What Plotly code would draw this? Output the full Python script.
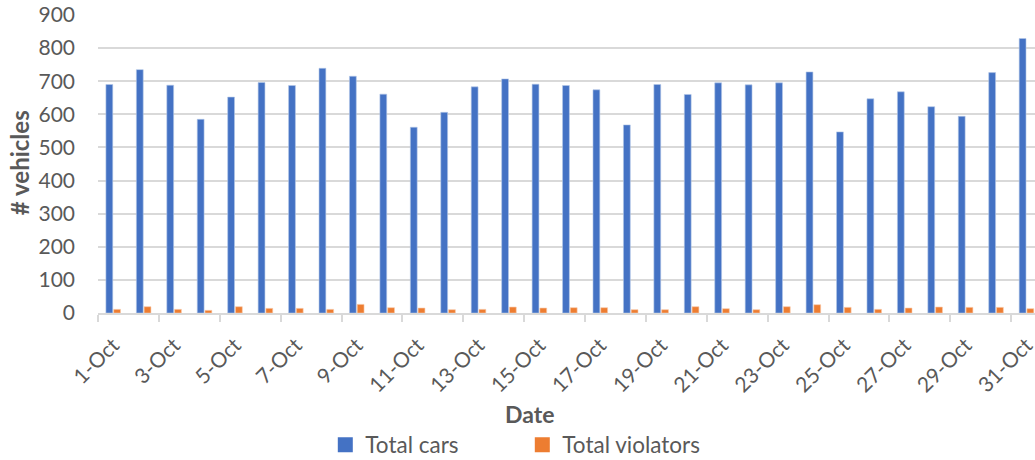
import plotly.graph_objects as go

dates = [f"{d}-Oct" for d in range(1, 32)]
total_cars = [690, 735, 688, 585, 652, 696, 687, 739, 715, 661, 561, 606, 683, 707, 691, 687,
              674, 568, 690, 660, 695, 689, 695, 728, 547, 647, 668, 623, 594, 726, 829]
total_violators = [11, 19, 11, 8, 19, 14, 14, 11, 26, 16, 15, 10, 11, 18, 15, 16,
                   16, 10, 10, 19, 13, 10, 19, 25, 17, 11, 15, 18, 17, 17, 13]
y_ticks = [0, 100, 200, 300, 400, 500, 600, 700, 800, 900]

FONT = "Lato, Roboto, sans-serif"
GRAY = "#595959"
BLUE = "#4472C4"
ORANGE = "#ED7D31"

fig = go.Figure()
fig.add_trace(go.Bar(x=dates, y=total_cars, name="Total cars", showlegend=False,
                     marker=dict(color=BLUE, line=dict(color="#B4C7E7", width=0.6))))
fig.add_trace(go.Bar(x=dates, y=total_violators, name="Total violators", showlegend=False,
                     marker=dict(color=ORANGE, line=dict(color="#F8CBAD", width=0.6))))
# legend entries
fig.add_trace(go.Scatter(x=[None], y=[None], mode="markers", name="Total cars",
                         marker=dict(symbol="square", size=15, color=BLUE)))
fig.add_trace(go.Scatter(x=[None], y=[None], mode="markers", name="Total violators",
                         marker=dict(symbol="square", size=15, color=ORANGE)))

fig.update_layout(
    width=1035, height=460,
    margin=dict(l=97.7, r=0, t=14, b=146.7),
    paper_bgcolor="white", plot_bgcolor="white",
    barmode="group", bargap=0.49, bargroupgap=0.12,
    font=dict(family=FONT, color=GRAY, size=18),
    showlegend=True,
    legend=dict(orientation="h", xref="container", yref="container",
                x=0.3143, y=0.0326, xanchor="left", yanchor="middle",
                font=dict(size=22.5, color=GRAY, family=FONT),
                entrywidth=152, entrywidthmode="pixels", itemsizing="trace",
                itemwidth=30, traceorder="normal"),
    xaxis=dict(type="category", range=[-0.5, 30.28], automargin=False,
               tickmode="array", tickvals=dates[::2], ticktext=dates[::2],
               tickangle=-45, tickson="boundaries", ticklabelstandoff=10,
               ticklabeloverflow="allow",
               ticks="outside", ticklen=7, tickcolor="#D9D9D9", tickwidth=1.5,
               showline=True, linecolor="#D9D9D9", linewidth=1.5,
               showgrid=False, tickfont=dict(size=21, color=GRAY, family=FONT)),
    yaxis=dict(range=[0, 903], tickmode="array", tickvals=y_ticks,
               showgrid=True, gridcolor="#D9D9D9", gridwidth=1.5,
               automargin=False, ticklabeloverflow="allow",
               zeroline=False, showline=False, ticks="", ticklabelstandoff=22,
               tickfont=dict(size=21, color=GRAY, family=FONT)),
    annotations=[
        dict(text="<b># vehicles</b>", xref="paper", yref="paper", x=-0.0845, y=0.504,
             xanchor="center", yanchor="middle", textangle=-90, showarrow=False,
             borderpad=0, font=dict(size=24, color=GRAY, family=FONT)),
        dict(text="<b>Date</b>", xref="paper", yref="paper", x=0.460, y=-0.3376,
             xanchor="center", yanchor="middle", showarrow=False,
             font=dict(size=23, color=GRAY, family=FONT)),
    ],
)

fig.write_html("out.html", config={"displayModeBar": False},
               post_script="document.body.style.margin='0px';")
